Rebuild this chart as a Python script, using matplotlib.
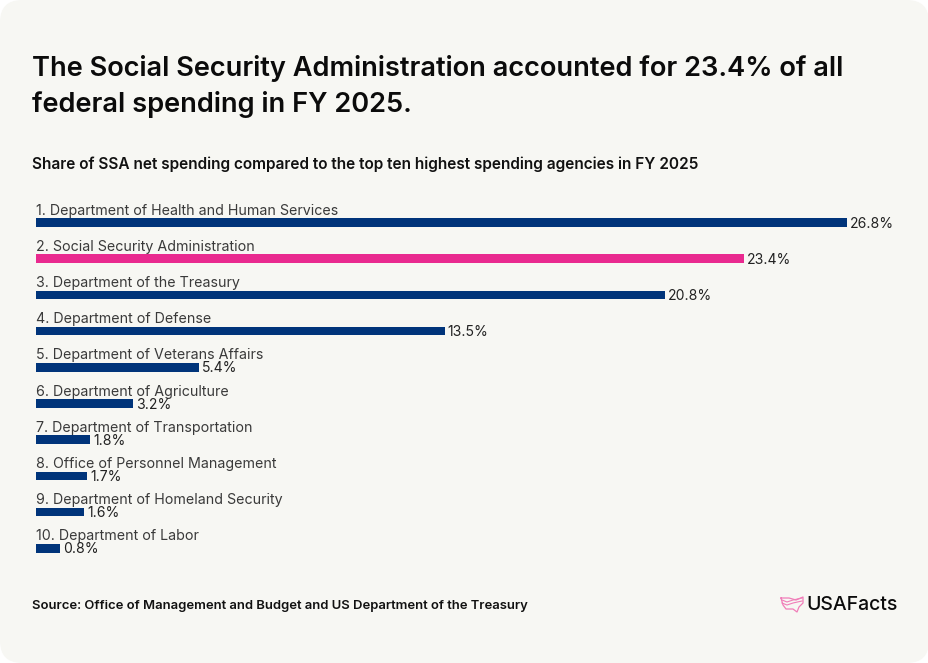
import matplotlib
matplotlib.use("Agg")
import matplotlib.pyplot as plt
from matplotlib.patches import FancyBboxPatch

agencies = ["1. Department of Health and Human Services", "2. Social Security Administration",
            "3. Department of the Treasury", "4. Department of Defense",
            "5. Department of Veterans Affairs", "6. Department of Agriculture",
            "7. Department of Transportation", "8. Office of Personnel Management",
            "9. Department of Homeland Security", "10. Department of Labor"]
shares = [26.8, 23.4, 20.8, 13.5, 5.4, 3.2, 1.8, 1.7, 1.6, 0.8]
NAVY, PINK = "#00347A", "#E92A8F"
colors = [PINK if a.startswith("2.") else NAVY for a in agencies]

W, H = 929, 663
plt.rcParams['font.family'] = ['Inter', 'DejaVu Sans']
fig = plt.figure(figsize=(W/100, H/100), dpi=100, facecolor="white")

bg = fig.add_axes([0, 0, 1, 1]); bg.set_xlim(0, W); bg.set_ylim(H, 0); bg.axis("off")
bg.add_patch(FancyBboxPatch((0, 0), W, H, boxstyle="round,pad=0,rounding_size=22",
                            fc="#F7F7F3", ec="none"))
bg.text(32, 68.5, "The Social Security Administration accounted for 23.4% of all",
        fontsize=19.6, fontweight=600, color="#0B0B0B", va="center", ha="left")
bg.text(32, 104.5, "federal spending in FY 2025.",
        fontsize=19.6, fontweight=600, color="#0B0B0B", va="center", ha="left")
bg.text(32, 164, "Share of SSA net spending compared to the top ten highest spending agencies in FY 2025",
        fontsize=11.1, fontweight=600, color="#111111", va="center", ha="left")
bg.text(32, 605.5, "Source: Office of Management and Budget and US Department of the Treasury",
        fontsize=9.4, fontweight=600, color="#111111", va="center", ha="left")
bg.text(806, 605.5, "USAFacts", fontsize=14, fontweight=500, color="#0B0B0B", va="center", ha="left")

# logo: stylised US map outline with wavy stripes
outline = [(781, 598), (789, 598), (796, 600), (803, 597), (803, 603), (799, 607), (797, 612),
           (793, 609), (786, 609), (783, 605), (781, 598)]
bg.plot(*zip(*outline), color="#F07DB8", lw=0.9)
for y0 in (601, 604):
    bg.plot([782, 787, 793, 802], [y0-1, y0+1, y0-1, y0-3], color="#F07DB8", lw=0.8)

top, pitch = 222.5, 36.2
ax = fig.add_axes([36/W, 1-(top+9.5*pitch)/H, (847-36)/W, 10*pitch/H])
ax.patch.set_alpha(0)
ax.set_xlim(0, 26.8); ax.set_ylim(9.5, -0.5); ax.axis("off")
ax.barh(range(len(shares)), shares, height=8.5/pitch, color=colors)
for i, (a, v) in enumerate(zip(agencies, shares)):
    ax.annotate(a, (0, i), xytext=(0, 3.6), textcoords="offset points", fontsize=10.27,
                color="#3A3A3A", va="bottom", ha="left", annotation_clip=False)
    ax.annotate(f"{v}%", (v, i), xytext=(2, -0.8), textcoords="offset points", fontsize=10.1,
                color="#222222", va="center", ha="left", annotation_clip=False)
fig.savefig("out.png", dpi=100, facecolor=fig.get_facecolor())
